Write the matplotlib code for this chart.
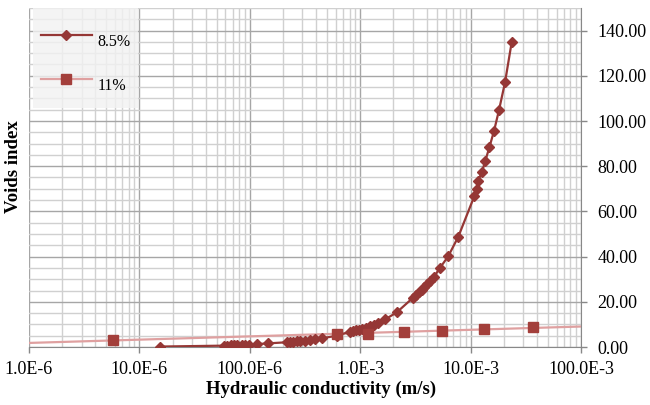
import numpy as np
import matplotlib
matplotlib.use("Agg")
import matplotlib.pyplot as plt
from matplotlib.ticker import FixedLocator, LogLocator, MultipleLocator, FuncFormatter, NullFormatter
from matplotlib.lines import Line2D
from matplotlib.patches import Rectangle

# ---- data ----
k_85 = [1.54e-5, 5.84e-5, 6.25e-5, 6.71e-5, 7.19e-5, 7.71e-5, 8.45e-5, 9.06e-5, 9.89e-5,
        1.17e-4, 1.47e-4, 2.16e-4, 2.31e-4, 2.48e-4, 2.66e-4, 2.85e-4, 3.16e-4, 3.51e-4,
        3.90e-4, 4.48e-4, 6.17e-4, 8.09e-4, 8.61e-4, 9.17e-4, 9.75e-4, 1.04e-3, 1.13e-3,
        1.23e-3, 1.33e-3, 1.45e-3, 1.68e-3, 2.14e-3, 3.01e-3, 3.20e-3, 3.41e-3, 3.61e-3,
        3.78e-3, 4.03e-3, 4.29e-3, 4.66e-3, 5.28e-3, 6.28e-3, 7.74e-3, 1.08e-2, 1.14e-2,
        1.17e-2, 1.27e-2, 1.36e-2, 1.48e-2, 1.63e-2, 1.81e-2, 2.05e-2, 2.36e-2]
e_85 = [0.2, 0.6, 0.65, 0.7, 0.75, 0.8, 0.85, 0.9, 1.0,
        1.3, 1.6, 2.1, 2.2, 2.35, 2.5, 2.65, 2.85, 3.1,
        3.4, 3.85, 5.0, 6.8, 7.1, 7.4, 7.7, 8.1, 8.6,
        9.2, 9.8, 10.4, 12.2, 15.3, 21.8, 23.0, 24.2, 25.3,
        26.5, 28.0, 29.3, 31.1, 35.0, 40.2, 48.8, 66.7, 70.0,
        73.5, 77.6, 82.4, 88.4, 95.6, 104.9, 117.1, 135.1]

k_11 = [5.8e-6, 6.1e-4, 1.18e-3, 2.5e-3, 5.5e-3, 1.33e-2, 3.65e-2]
e_11 = [3.2, 5.6, 5.9, 6.6, 7.2, 7.9, 8.8]

x_ticks = [1e-6, 1e-5, 1e-4, 1e-3, 1e-2, 1e-1]
x_tick_labels = ["1.0E-6", "10.0E-6", "100.0E-6", "1.0E-3", "10.0E-3", "100.0E-3"]
series_labels = ["8.5%", "11%"]

# ---- style ----
plt.rcParams['font.family'] = ['Liberation Serif', 'DejaVu Serif']
dark = '#953735'
sq_col = '#A33F3B'
pale = '#DFA0A0'

fig = plt.figure(figsize=(6.5, 4.05), dpi=100)
ax = fig.add_axes([29/650, 1-347/405, (581-29)/650, (347-8)/405])

ax.set_xscale('log')
ax.set_xlim(1e-6, 1e-1)
ax.set_ylim(0, 150)

# gridlines
ax.xaxis.set_major_locator(FixedLocator(x_ticks))
ax.xaxis.set_minor_locator(LogLocator(base=10, subs=np.arange(2, 10)))
ax.xaxis.set_minor_formatter(NullFormatter())
ax.set_xticklabels(x_tick_labels)
ax.yaxis.set_major_locator(MultipleLocator(20))
ax.yaxis.set_minor_locator(MultipleLocator(5))
ax.yaxis.set_major_formatter(FuncFormatter(lambda v, p: f"{v:.2f}"))
ax.grid(which='major', color='#a6a6a6', linewidth=1.0)
ax.grid(which='minor', color='#d0d0d0', linewidth=1.0)
ax.set_axisbelow(True)

ax.yaxis.tick_right()
ax.yaxis.set_label_position('left')
ax.tick_params(axis='both', which='major', labelsize=13, direction='out', length=4,
               color='#888888', width=1)
ax.tick_params(axis='both', which='minor', length=0)
ax.tick_params(axis='x', pad=6)
ax.tick_params(axis='y', pad=8)
for s in ['top', 'left']:
    ax.spines[s].set_visible(False)
for s in ['bottom', 'right']:
    ax.spines[s].set_color('#888888')

# trend line for 11% (logarithmic fit of the 11% points)
lx = np.log10(k_11)
b, a = np.polyfit(lx, e_11, 1)
xs = np.array([1e-6, 1e-1])
ax.plot(xs, a + b*np.log10(xs), color=pale, lw=1.6, zorder=2)

ax.plot(k_85, e_85, color=dark, lw=1.6, marker='D', markersize=5.5,
        markerfacecolor=dark, markeredgecolor=dark, zorder=3)
ax.plot(k_11, e_11, linestyle='none', marker='s', markersize=7.5,
        markerfacecolor=sq_col, markeredgecolor=sq_col, zorder=4)

# legend background box
ax.add_patch(Rectangle((4/552, (347-108)/339), 105/552, 100/339, transform=ax.transAxes,
                       facecolor='#f2f2f2', alpha=0.8, edgecolor='none', zorder=5))

# legend proxies
h1 = Line2D([], [], color=dark, lw=1.6, marker='D', markersize=5.5, markerfacecolor=dark, markeredgecolor=dark)
h2 = Line2D([], [], color=pale, lw=1.6, marker='s', markersize=7.5, markerfacecolor=sq_col, markeredgecolor=sq_col)
leg = ax.legend([h1, h2], series_labels, loc='upper left', bbox_to_anchor=(4/552, 1.0 - 9/339),
                fontsize=11.5, frameon=False, borderpad=0.47, labelspacing=0.57,
                handlelength=3.25, handleheight=2.95, handletextpad=0.33, borderaxespad=0.0)
leg.set_zorder(6)

ax.set_xlabel("Hydraulic conductivity (m/s)", fontsize=13.5, fontweight='bold')
ax.xaxis.set_label_coords((321-29)/552, -(381-347)/339)
ax.set_ylabel("Voids index", fontsize=13.5, fontweight='bold')
ax.yaxis.set_label_coords(-(29-22)/552, (347-167)/339)

fig.savefig("out.png", dpi=100)
